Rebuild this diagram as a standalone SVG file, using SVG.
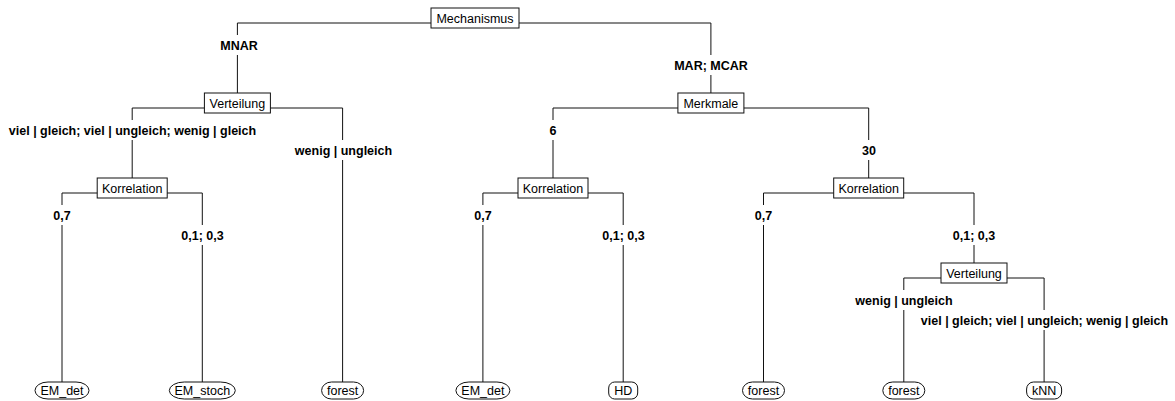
<svg xmlns="http://www.w3.org/2000/svg" width="1175" height="401" viewBox="0 0 1175 401">
<style>
.bg{fill:#fff}
.ln{stroke:#111;stroke-width:1;fill:none}
.box{fill:#fff;stroke:#111;stroke-width:1}
.nt{font-family:"Liberation Sans",Arial,sans-serif;font-size:12.5px;fill:#000;text-anchor:middle}
.lb{font-family:"Liberation Sans",Arial,sans-serif;font-size:12.5px;font-weight:bold;fill:#000;text-anchor:middle}
</style>
<rect class="bg" x="0" y="0" width="1175" height="401"/>
<g id="connectors">
  <!-- Mechanismus -->
  <path class="ln" d="M237.4,23H710.9"/>
  <path class="ln" d="M237.4,23V35M237.4,55V93"/>
  <path class="ln" d="M710.9,23V55M710.9,75V93"/>
  <!-- Verteilung left -->
  <path class="ln" d="M132.2,108H342.6"/>
  <path class="ln" d="M132.2,108V120M132.2,140V178"/>
  <path class="ln" d="M342.6,108V140M342.6,160V382"/>
  <!-- Merkmale -->
  <path class="ln" d="M553,108H868.7"/>
  <path class="ln" d="M553,108V120M553,140V178"/>
  <path class="ln" d="M868.7,108V140M868.7,160V178"/>
  <!-- Korrelation left -->
  <path class="ln" d="M62,193H202.3"/>
  <path class="ln" d="M62,193V205M62,225V382"/>
  <path class="ln" d="M202.3,193V225M202.3,245V382"/>
  <!-- Korrelation middle -->
  <path class="ln" d="M482.9,193H623.2"/>
  <path class="ln" d="M482.9,193V205M482.9,225V382"/>
  <path class="ln" d="M623.2,193V225M623.2,245V382"/>
  <!-- Korrelation right -->
  <path class="ln" d="M763.5,193H974"/>
  <path class="ln" d="M763.5,193V205M763.5,225V382"/>
  <path class="ln" d="M974,193V225M974,245V263"/>
  <!-- Verteilung right -->
  <path class="ln" d="M903.8,278H1044.1"/>
  <path class="ln" d="M903.8,278V290M903.8,310V382"/>
  <path class="ln" d="M1044.1,278V310M1044.1,330V382"/>
</g>
<g id="edge-labels">
  <text class="lb" x="239" y="49.5">MNAR</text>
  <text class="lb" x="711" y="69.5">MAR; MCAR</text>
  <text class="lb" x="132.5" y="134.5">viel | gleich; viel | ungleich; wenig | gleich</text>
  <text class="lb" x="343.5" y="154.5">wenig | ungleich</text>
  <text class="lb" x="553" y="134.5">6</text>
  <text class="lb" x="869" y="154.5">30</text>
  <text class="lb" x="62" y="219.5">0,7</text>
  <text class="lb" x="202.5" y="239.5">0,1; 0,3</text>
  <text class="lb" x="483" y="219.5">0,7</text>
  <text class="lb" x="623.5" y="239.5">0,1; 0,3</text>
  <text class="lb" x="763.5" y="219.5">0,7</text>
  <text class="lb" x="974" y="239.5">0,1; 0,3</text>
  <text class="lb" x="904" y="304.5">wenig | ungleich</text>
  <text class="lb" x="1044.5" y="324.5">viel | gleich; viel | ungleich; wenig | gleich</text>
</g>
<g id="n-mechanismus"><rect class="box" x="431" y="8" width="88" height="20"/><text class="nt" x="475" y="22.5">Mechanismus</text></g>
<g id="n-verteilung1"><rect class="box" x="204.4" y="93" width="66" height="20"/><text class="nt" x="237.4" y="107.5">Verteilung</text></g>
<g id="n-merkmale"><rect class="box" x="677.9" y="93" width="66" height="20"/><text class="nt" x="710.9" y="107.5">Merkmale</text></g>
<g id="n-korrelation1"><rect class="box" x="97.2" y="178" width="70" height="20"/><text class="nt" x="132.2" y="192.5">Korrelation</text></g>
<g id="n-korrelation2"><rect class="box" x="518" y="178" width="70" height="20"/><text class="nt" x="553" y="192.5">Korrelation</text></g>
<g id="n-korrelation3"><rect class="box" x="833.7" y="178" width="70" height="20"/><text class="nt" x="868.7" y="192.5">Korrelation</text></g>
<g id="n-verteilung2"><rect class="box" x="941" y="263" width="66" height="20"/><text class="nt" x="974" y="277.5">Verteilung</text></g>
<g id="leaf-em-det1"><rect class="box" x="35" y="382" width="54" height="17" rx="13" ry="8.5"/><text class="nt" x="62" y="395">EM_det</text></g>
<g id="leaf-em-stoch"><rect class="box" x="169.3" y="382" width="66" height="17" rx="15" ry="8.5"/><text class="nt" x="202.3" y="395">EM_stoch</text></g>
<g id="leaf-forest1"><rect class="box" x="321.6" y="382" width="42" height="17" rx="10" ry="8.5"/><text class="nt" x="342.6" y="395">forest</text></g>
<g id="leaf-em-det2"><rect class="box" x="455.9" y="382" width="54" height="17" rx="13" ry="8.5"/><text class="nt" x="482.9" y="395">EM_det</text></g>
<g id="leaf-hd"><rect class="box" x="608.7" y="382" width="29" height="17" rx="6" ry="6"/><text class="nt" x="623.2" y="395">HD</text></g>
<g id="leaf-forest2"><rect class="box" x="742.5" y="382" width="42" height="17" rx="10" ry="8.5"/><text class="nt" x="763.5" y="395">forest</text></g>
<g id="leaf-forest3"><rect class="box" x="882.8" y="382" width="42" height="17" rx="10" ry="8.5"/><text class="nt" x="903.8" y="395">forest</text></g>
<g id="leaf-knn"><rect class="box" x="1026.6" y="382" width="35" height="17" rx="7" ry="7"/><text class="nt" x="1044.1" y="395">kNN</text></g>
</svg>
